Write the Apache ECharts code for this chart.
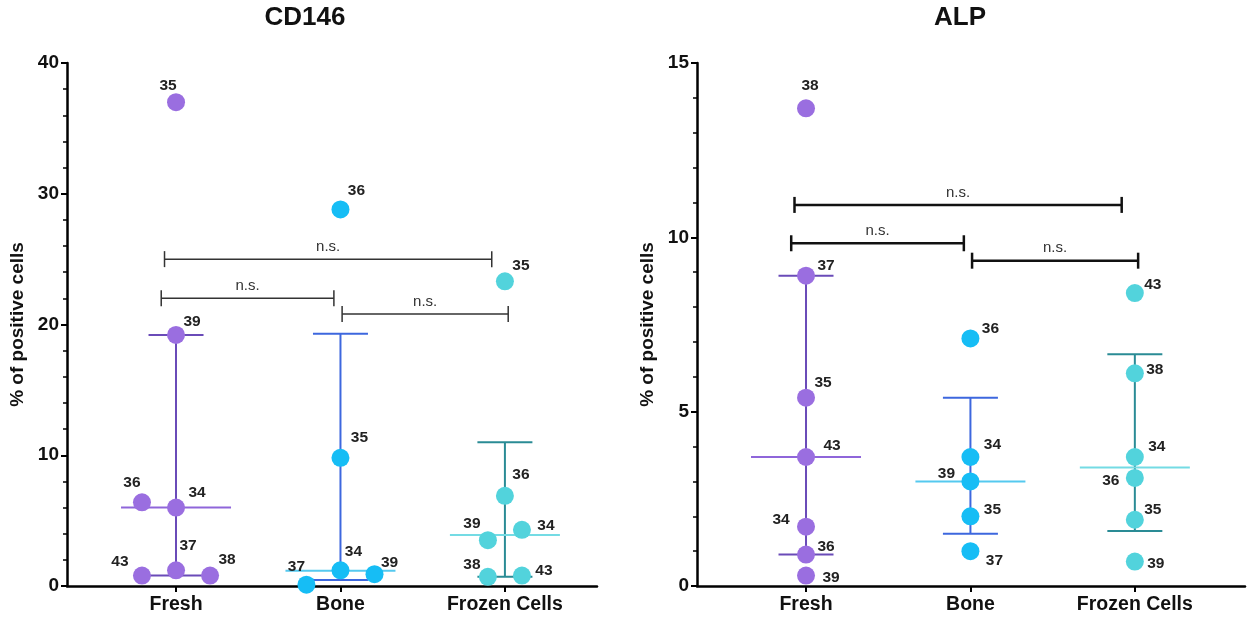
<!DOCTYPE html>
<html>
<head>
<meta charset="utf-8">
<script src="https://cdn.jsdelivr.net/npm/echarts@6/dist/echarts.min.js"></script>
<style>
html,body{margin:0;padding:0;background:#fff;}
#chart{width:1247px;height:618px;}
</style>
</head>
<body>
<div id="chart"></div>
<script>
// ---------------- DATA ----------------
const categories = ['Fresh', 'Bone', 'Frozen Cells'];

// CD146
const cd146FreshIds = ['35', '39', '36', '34', '37', '43', '38'];
const cd146FreshVals = [37.0, 19.2, 6.4, 6.0, 1.2, 0.8, 0.8];
const cd146BoneIds = ['36', '35', '34', '39', '37'];
const cd146BoneVals = [28.8, 9.8, 1.2, 0.9, 0.1];
const cd146FrozenIds = ['35', '36', '34', '39', '38', '43'];
const cd146FrozenVals = [23.3, 6.9, 4.3, 3.5, 0.7, 0.8];
const cd146Median = [6.0, 1.17, 3.9];
const cd146Low = [0.8, 0.46, 0.7];
const cd146High = [19.2, 19.3, 11.0];
const cd146Ticks = [0, 10, 20, 30, 40];

// ALP
const alpFreshIds = ['38', '37', '35', '43', '34', '36', '39'];
const alpFreshVals = [13.7, 8.9, 5.4, 3.7, 1.7, 0.9, 0.3];
const alpBoneIds = ['36', '34', '39', '35', '37'];
const alpBoneVals = [7.1, 3.7, 3.0, 2.0, 1.0];
const alpFrozenIds = ['43', '38', '34', '36', '35', '39'];
const alpFrozenVals = [8.4, 6.1, 3.7, 3.1, 1.9, 0.7];
const alpMedian = [3.7, 3.0, 3.4];
const alpLow = [0.9, 1.5, 1.58];
const alpHigh = [8.9, 5.4, 6.65];
const alpTicks = [0, 5, 10, 15];

// significance comparisons: [from category pos, to category pos, level]
const cd146Comparisons = [[0.93, 2.92, 25.0], [0.91, 1.96, 22.0], [2.01, 3.02, 20.8]];
const alpComparisons = [[0.93, 2.92, 10.93], [0.91, 1.96, 9.83], [2.01, 3.02, 9.33]];
const comparisonLabel = 'n.s.';

// ---------------- LAYOUT / STYLE ----------------
const jitterUnit = 0.207;
const cd146Jitter = [[0, 0, -1, 0, 0, -1, 1], [0, 0, 0, 1, -1], [0, 0, 0.5, -0.5, -0.5, 0.5]];
const alpJitter = [[0, 0, 0, 0, 0, 0, 0], [0, 0, 0, 0, 0], [0, 0, 0, 0, 0, 0]];
const cd146LabelOffsets = [
  [[-8, -17], [16, -13], [-10, -20], [21, -15], [12, -25], [-22, -14], [17, -16]],
  [[16, -19], [19, -20], [13, -19], [15, -12], [-10, -18]],
  [[16, -16], [16, -21], [24, -4], [-16, -17], [-16, -12], [22, -5]]
];
const alpLabelOffsets = [
  [[4, -23], [20, -10], [17, -15], [26, -11], [-25, -7], [20, -8], [25, 2]],
  [[20, -10], [22, -12], [-24, -8], [22, -7], [24, 10]],
  [[18, -8], [20, -4], [22, -10], [-24, 3], [18, -10], [21, 2]]
];
const groupColors = [
  { dot: '#9a6ee0', bar: '#6a4bb8', median: '#8f66da' },
  { dot: '#16bdf5', bar: '#3d67de', median: '#55c9ef' },
  { dot: '#52d3dc', bar: '#2a8b95', median: '#74dbe4' }
];
const FONT = 'Liberation Sans, Arial, sans-serif';

// ---------------- BUILD ----------------
function pointSeries(ids, vals, jit, offs, gi, axisIdx) {
  return {
    type: 'scatter',
    xAxisIndex: axisIdx, yAxisIndex: axisIdx,
    symbolSize: 18, z: 5, clip: false,
    itemStyle: { color: groupColors[gi].dot, opacity: 1 },
    emphasis: { disabled: true },
    data: vals.map((v, i) => ({
      value: [gi + 1 + jit[i] * jitterUnit, v],
      label: {
        show: true, formatter: ids[i], position: 'inside',
        offset: offs[i], color: '#222', fontSize: 15.5, fontWeight: 'bold',
        fontFamily: FONT
      }
    }))
  };
}

function errorSeries(low, high, median, axisIdx) {
  return {
    type: 'custom', xAxisIndex: axisIdx, yAxisIndex: axisIdx, z: 3, clip: false,
    silent: true,
    data: categories.map((c, i) => [i + 1, low[i], high[i], median[i], i]),
    renderItem: function (params, api) {
      const x = api.value(0);
      const lo = api.coord([x, api.value(1)]);
      const hi = api.coord([x, api.value(2)]);
      const md = api.coord([x, api.value(3)]);
      const col = groupColors[api.value(4)];
      const bs = { stroke: col.bar, lineWidth: 2 };
      return {
        type: 'group', children: [
          { type: 'line', shape: { x1: lo[0], y1: lo[1], x2: hi[0], y2: hi[1] }, style: bs },
          { type: 'line', shape: { x1: hi[0] - 27.5, y1: hi[1], x2: hi[0] + 27.5, y2: hi[1] }, style: bs },
          { type: 'line', shape: { x1: lo[0] - 27.5, y1: lo[1], x2: lo[0] + 27.5, y2: lo[1] }, style: bs },
          { type: 'line', shape: { x1: md[0] - 55, y1: md[1], x2: md[0] + 55, y2: md[1] }, style: { stroke: col.median, lineWidth: 2 } }
        ]
      };
    }
  };
}

function bracketSeries(comps, axisIdx, lw, color) {
  return {
    type: 'custom', xAxisIndex: axisIdx, yAxisIndex: axisIdx, z: 2, clip: false,
    silent: true,
    data: comps,
    renderItem: function (params, api) {
      const a = api.coord([api.value(0), api.value(2)]);
      const b = api.coord([api.value(1), api.value(2)]);
      const st = { stroke: color, lineWidth: lw };
      return {
        type: 'group', children: [
          { type: 'line', shape: { x1: a[0], y1: a[1], x2: b[0], y2: b[1] }, style: st },
          { type: 'line', shape: { x1: a[0], y1: a[1] - 8, x2: a[0], y2: a[1] + 8 }, style: st },
          { type: 'line', shape: { x1: b[0], y1: b[1] - 8, x2: b[0], y2: b[1] + 8 }, style: st },
          { type: 'text', x: (a[0] + b[0]) / 2, y: a[1] - 5,
            style: { text: comparisonLabel, align: 'center', verticalAlign: 'bottom',
              fontSize: 15, fontFamily: FONT, fill: '#333' } }
        ]
      };
    }
  };
}

function xAxisDef(gridIndex, max) {
  return {
    type: 'value', gridIndex: gridIndex, min: 0.337, max: max,
    splitLine: { show: false },
    axisLine: { show: true, onZero: false, lineStyle: { color: '#000', width: 2.5 } },
    axisTick: { show: true, customValues: [1, 2, 3], length: 6, lineStyle: { color: '#000', width: 2 } },
    axisLabel: {
      customValues: [1, 2, 3], formatter: v => categories[Math.round(v) - 1],
      color: '#111', fontSize: 19.5, fontWeight: 'bold', fontFamily: FONT, margin: 9
    }
  };
}

function yAxisDef(gridIndex, ticks) {
  return {
    type: 'value', gridIndex: gridIndex, min: ticks[0], max: ticks[ticks.length - 1],
    interval: ticks[1] - ticks[0],
    name: '% of positive cells', nameLocation: 'middle', nameGap: 40,
    nameTextStyle: { color: '#111', fontSize: 19, fontWeight: 'bold', fontFamily: FONT },
    splitLine: { show: false },
    axisLine: { show: true, lineStyle: { color: '#000', width: 2.5 } },
    axisTick: { show: true, length: 6, lineStyle: { color: '#000', width: 2 } },
    minorTick: { show: true, splitNumber: 5, length: 4, lineStyle: { color: '#000', width: 1.5 } },
    axisLabel: { color: '#111', fontSize: 19, fontWeight: 'bold', fontFamily: FONT, margin: 8 }
  };
}

const option = {
  animation: false,
  backgroundColor: '#fff',
  graphic: [
    { type: 'text', x: 305, y: 18, style: { text: 'CD146', align: 'center', verticalAlign: 'middle', font: 'bold 26px ' + FONT, fill: '#111' } },
    { type: 'text', x: 960, y: 18, style: { text: 'ALP', align: 'center', verticalAlign: 'middle', font: 'bold 26px ' + FONT, fill: '#111' } }
  ],
  grid: [
    { left: 67, top: 63, width: 530, height: 523 },
    { left: 697, top: 63, width: 548, height: 523 }
  ],
  xAxis: [xAxisDef(0, 3.56), xAxisDef(1, 3.67)],
  yAxis: [yAxisDef(0, cd146Ticks), yAxisDef(1, alpTicks)],
  series: [
    bracketSeries(cd146Comparisons, 0, 1.5, '#333'),
    bracketSeries(alpComparisons, 1, 2.5, '#111'),
    errorSeries(cd146Low, cd146High, cd146Median, 0),
    errorSeries(alpLow, alpHigh, alpMedian, 1),
    pointSeries(cd146FreshIds, cd146FreshVals, cd146Jitter[0], cd146LabelOffsets[0], 0, 0),
    pointSeries(cd146BoneIds, cd146BoneVals, cd146Jitter[1], cd146LabelOffsets[1], 1, 0),
    pointSeries(cd146FrozenIds, cd146FrozenVals, cd146Jitter[2], cd146LabelOffsets[2], 2, 0),
    pointSeries(alpFreshIds, alpFreshVals, alpJitter[0], alpLabelOffsets[0], 0, 1),
    pointSeries(alpBoneIds, alpBoneVals, alpJitter[1], alpLabelOffsets[1], 1, 1),
    pointSeries(alpFrozenIds, alpFrozenVals, alpJitter[2], alpLabelOffsets[2], 2, 1)
  ]
};

const chart = echarts.init(document.getElementById('chart'), null, { renderer: 'canvas' });
chart.setOption(option);
</script>
</body>
</html>
